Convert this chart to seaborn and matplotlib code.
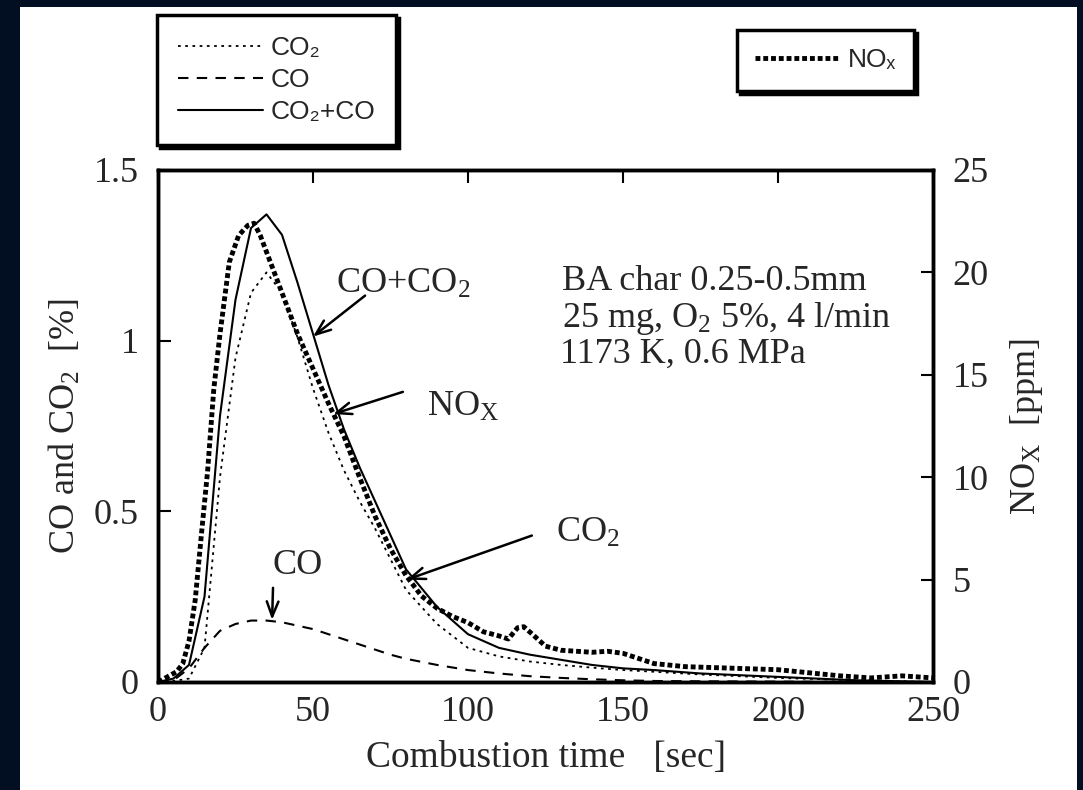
import numpy as np
import seaborn as sns
import matplotlib.pyplot as plt
from matplotlib.patches import Rectangle

# данные
t_gas = [0, 5, 10, 15, 20, 25, 30, 35, 40, 45, 50, 55, 60, 65, 70, 75, 80,
         90, 100, 110, 120, 130, 140, 150, 160, 175, 200, 225, 250]
co = [0, 0.005, 0.04, 0.10, 0.15, 0.17, 0.18, 0.18, 0.175, 0.165, 0.155, 0.14,
      0.125, 0.11, 0.095, 0.08, 0.068, 0.05, 0.035, 0.025, 0.017, 0.012, 0.008,
      0.005, 0.003, 0.002, 0.001, 0, 0]
co2 = [0, 0.003, 0.01, 0.10, 0.60, 0.95, 1.14, 1.20, 1.14, 1.01, 0.86, 0.73,
       0.62, 0.53, 0.45, 0.36, 0.27, 0.17, 0.10, 0.075, 0.06, 0.05, 0.042,
       0.035, 0.03, 0.022, 0.012, 0.005, 0]
co_co2 = [0, 0.01, 0.05, 0.25, 0.78, 1.12, 1.33, 1.37, 1.31, 1.17, 1.02, 0.87,
          0.74, 0.63, 0.53, 0.43, 0.33, 0.22, 0.14, 0.10, 0.08, 0.065, 0.05,
          0.04, 0.035, 0.025, 0.015, 0.005, 0]

t_nox = [0, 3, 6, 8, 10, 12, 14, 16, 18, 20, 23, 26, 29, 31, 33, 36, 40, 45,
         50, 55, 60, 65, 70, 75, 80, 85, 90, 95, 100, 105, 110, 113, 116, 118,
         121, 125, 130, 140, 145, 150, 155, 160, 170, 180, 190, 200, 210, 220,
         230, 240, 250]
nox = [0, 0.25, 0.5, 0.9, 2.0, 4.0, 7.2, 10.3, 14.3, 17.0, 20.5, 21.8, 22.3,
       22.4, 21.8, 20.6, 19.0, 17.0, 15.3, 13.6, 12.0, 10.0, 8.1, 6.5, 5.2,
       4.2, 3.6, 3.2, 2.9, 2.45, 2.25, 2.1, 2.65, 2.7, 2.3, 1.75, 1.55, 1.45,
       1.5, 1.4, 1.15, 0.9, 0.75, 0.7, 0.65, 0.6, 0.45, 0.3, 0.2, 0.3, 0.2]

left_ticks = [0, 0.5, 1, 1.5]
left_ticklabels = ["0", "0.5", "1", "1.5"]
right_ticks = [0, 5, 10, 15, 20, 25]
x_ticks = [0, 50, 100, 150, 200, 250]

sns.set_theme(style="white")
plt.rcParams['font.family'] = ['Liberation Serif', 'DejaVu Serif']
plt.rcParams['mathtext.fontset'] = 'custom'
plt.rcParams['mathtext.rm'] = 'Liberation Serif'
plt.rcParams['mathtext.it'] = 'Liberation Serif:italic'
plt.rcParams['mathtext.bf'] = 'Liberation Serif:bold'

FS = 26
fig = plt.figure(figsize=(10.83, 7.9), dpi=100)
fig.patch.set_facecolor('#020e22')
fig.add_artist(Rectangle((20 / 1083, 0), 1057 / 1083, 783 / 790,
                         transform=fig.transFigure, facecolor='white',
                         edgecolor='none', zorder=0))

ax = fig.add_axes([158 / 1083, 1 - 682 / 790, 775 / 1083, 512 / 790])
ax2 = ax.twinx()

sns.lineplot(x=t_gas, y=co2, ax=ax, color='black', lw=1.3,
             linestyle=(0, (1.5, 2.5)))
sns.lineplot(x=t_gas, y=co, ax=ax, color='black', lw=1.5,
             linestyle=(0, (5, 4)))
sns.lineplot(x=t_gas, y=co_co2, ax=ax, color='black', lw=1.5)
sns.lineplot(x=t_nox, y=nox, ax=ax2, color='black', lw=3.5,
             linestyle=(0, (1, 0.6)))

ax.set_xlim(0, 250)
ax.set_ylim(0, 1.5)
ax2.set_ylim(0, 25)
ax.set_xticks(x_ticks)
ax.set_xticklabels([str(v) for v in x_ticks], fontsize=FS)
ax.set_yticks(left_ticks)
ax.set_yticklabels(left_ticklabels, fontsize=FS)
ax2.set_yticks(right_ticks)
ax2.set_yticklabels([str(v) for v in right_ticks], fontsize=FS)

ax.tick_params(axis='y', direction='in', length=9, width=1.5,
               color='black', pad=14)
ax.tick_params(axis='x', direction='in', length=9, width=1.5,
               color='black', pad=10, top=True)
ax2.tick_params(axis='y', direction='in', length=9, width=1.5,
                color='black', pad=14)
for a in (ax, ax2):
    for s in a.spines.values():
        s.set_linewidth(2.5)
        s.set_color('black')

ax.set_xlabel("Combustion time   [sec]", fontsize=27, labelpad=8)
ax.set_ylabel("CO and CO$_2$  [%]", fontsize=FS, labelpad=8)
ax2.set_ylabel("NO$_\\mathrm{X}$  [ppm]", fontsize=FS, labelpad=14)

# подписи и стрелки
arr = dict(arrowstyle='->,head_length=0.9,head_width=0.35', lw=1.8,
           color='black', shrinkA=0, shrinkB=0)
ax.annotate("", xy=(50.0, 1.012), xytext=(66.8, 1.132), arrowprops=arr)
ax.annotate("", xy=(56.5, 0.785), xytext=(79.0, 0.85), arrowprops=arr)
ax.annotate("", xy=(80.3, 0.30), xytext=(120.6, 0.429), arrowprops=arr)
ax.annotate("", xy=(36.8, 0.182), xytext=(37.1, 0.276), arrowprops=arr)

ax.text(57.4, 1.14, "CO+CO$_2$", fontsize=FS, va='baseline')
ax.text(86.8, 0.78, "NO$_\\mathrm{X}$", fontsize=FS, va='baseline')
ax.text(128.4, 0.41, "CO$_2$", fontsize=FS, va='baseline')
ax.text(36.8, 0.315, "CO", fontsize=FS, va='baseline')
ax.text(130.3, 1.147, "BA char 0.25-0.5mm", fontsize=FS, va='baseline')
ax.text(130.3, 1.04, "25 mg, O$_2$ 5%, 4 l/min", fontsize=FS, va='baseline')
ax.text(129.7, 0.935, "1173 K, 0.6 MPa", fontsize=FS, va='baseline')

# легенды
lfont = dict(family=['Liberation Sans', 'DejaVu Sans'], size=19)
leg_props = dict(frameon=True, fancybox=False, edgecolor='black',
                 framealpha=1, prop=lfont, handlelength=3.2,
                 handletextpad=0.3, borderaxespad=0,
                 shadow={'color': 'black', 'alpha': 1})
l1 = fig.legend(handles=ax.lines[:3], labels=["CO₂", "CO", "CO₂+CO"],
                loc='upper left', bbox_to_anchor=(157 / 1083, 1 - 15 / 790),
                labelspacing=0.3, borderpad=0.8, **leg_props)
l2 = fig.legend(handles=ax2.lines[:1], labels=["NOₓ"],
                loc='upper left', bbox_to_anchor=(737 / 1083, 1 - 30 / 790),
                borderpad=0.7, **leg_props)
for l in (l1, l2):
    l.get_frame().set_linewidth(2.5)

fig.savefig("out.png", dpi=100, facecolor=fig.get_facecolor())
